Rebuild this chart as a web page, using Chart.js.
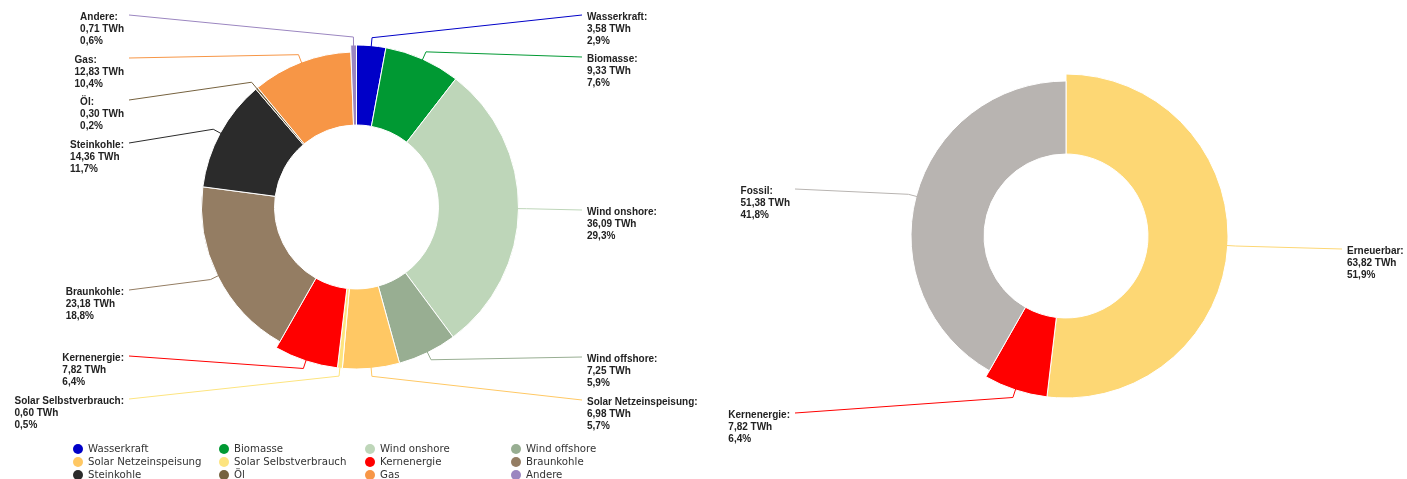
<!DOCTYPE html>
<html>
<head>
<meta charset="utf-8">
<script src="https://cdn.jsdelivr.net/npm/chart.js@4.4.1/dist/chart.umd.min.js"></script>
<style>
html, body { margin: 0; padding: 0; background: #fff; }
#wrap { position: relative; width: 1407px; height: 479px; overflow: hidden; }
#left { position: absolute; left: 0; top: 0; }
#right { position: absolute; left: 704px; top: 0; }
#legend {
    position: absolute; left: 73px; top: 442px;
    display: grid; grid-template-columns: repeat(4, 146px);
    font: 10.2px "DejaVu Sans", sans-serif; color: #333;
}
.item { height: 13px; line-height: 13px; white-space: nowrap; display: flex; align-items: center; }
.dot { width: 10px; height: 10px; border-radius: 50%; margin-right: 5px; flex: none; }
</style>
</head>
<body>
<div id="wrap">
    <canvas id="left" width="704" height="479"></canvas>
    <canvas id="right" width="703" height="479"></canvas>
    <div id="legend"></div>
</div>
<script>
// Stromerzeugung nach Quelle (TWh)
const quellen = ['Wasserkraft', 'Biomasse', 'Wind onshore', 'Wind offshore', 'Solar Netzeinspeisung',
    'Solar Selbstverbrauch', 'Kernenergie', 'Braunkohle', 'Steinkohle', 'Öl', 'Gas', 'Andere'];
const quellenTWh = [3.58, 9.33, 36.09, 7.25, 6.98, 0.60, 7.82, 23.18, 14.36, 0.30, 12.83, 0.71];
const quellenGruppe = ['erneuerbar', 'erneuerbar', 'erneuerbar', 'erneuerbar', 'erneuerbar',
    'erneuerbar', 'kern', 'fossil', 'fossil', 'fossil', 'fossil', 'andere'];

// Zusammenfassung nach Gruppe (TWh)
const gruppen = ['Erneuerbar', 'Kernenergie', 'Fossil'];
const gruppenTWh = [63.82, 7.82, 51.38];
const gruppenTyp = ['erneuerbar', 'kern', 'fossil'];

// colours
const quellenFarben = ['#0000c8', '#009933', '#bed6b9', '#98ae92', '#ffc864', '#fde47f',
    '#ff0000', '#947d63', '#2b2b2b', '#76623f', '#f79646', '#9b86c0'];
const gruppenFarben = ['#fdd774', '#ff0000', '#b8b4b1'];

// label anchor heights (layout only)
const quellenLabelY = [15, 57, 210, 357, 400, 399, 356, 290, 143, 100, 58, 15];
const gruppenLabelY = [249, 413, 189];

function fmt(v, digits) {
    return v.toFixed(digits).replace('.', ',');
}

const outsideLabels = {
    id: 'outsideLabels',
    beforeDatasetsDraw(chart, args, opts) {
        const meta = chart.getDatasetMeta(0);
        const ctrl = meta.controller;
        meta.data.forEach((arc, i) => {
            arc.outerRadius = opts.typ[i] === 'fossil' ? ctrl.outerRadius - opts.shrinkBy : ctrl.outerRadius;
        });
    },
    afterDraw(chart, args, opts) {
        const ctx = chart.ctx;
        const meta = chart.getDatasetMeta(0);
        const ds = chart.data.datasets[0];
        const total = ds.data.reduce((a, b) => a + b, 0);
        ctx.save();
        ctx.font = 'bold 10px "Liberation Sans", Arial, sans-serif';
        ctx.textBaseline = 'middle';
        meta.data.forEach((arc, i) => {
            const mid = (arc.startAngle + arc.endAngle) / 2;
            const cos = Math.cos(mid), sin = Math.sin(mid);
            const bx = arc.x + cos * (arc.outerRadius - 1), by = arc.y + sin * (arc.outerRadius - 1);
            const kx = arc.x + cos * (arc.outerRadius + 8), ky = arc.y + sin * (arc.outerRadius + 8);
            const right = cos >= 0;
            const ly = opts.labelY[i];
            const lineX = right ? opts.rightLineX : opts.leftLineX;

            ctx.strokeStyle = ds.backgroundColor[i];
            ctx.lineWidth = 1;
            ctx.beginPath();
            ctx.moveTo(lineX, ly);
            ctx.lineTo(kx, ky);
            ctx.lineTo(bx, by);
            ctx.stroke();

            const lines = [chart.data.labels[i] + ':', fmt(ds.data[i], 2) + ' TWh', fmt(ds.data[i] / total * 100, 1) + '%'];
            const w = Math.max(...lines.map(t => ctx.measureText(t).width));
            const tx = right ? opts.rightTextX : opts.leftTextX - w;
            ctx.fillStyle = '#222';
            lines.forEach((t, k) => ctx.fillText(t, tx, ly + 2 + k * 12));
        });
        ctx.restore();
    }
};

function makeDonut(id, labels, values, colors, typ, labelY, pad, xs) {
    return new Chart(document.getElementById(id), {
        type: 'doughnut',
        data: {
            labels: labels,
            datasets: [{
                data: values,
                backgroundColor: colors,
                borderColor: '#ffffff',
                borderWidth: 1,
                radius: 162,
                cutout: '50.6%'
            }]
        },
        options: {
            responsive: false,
            devicePixelRatio: 1,
            animation: false,
            layout: { padding: pad },
            plugins: {
                legend: { display: false },
                tooltip: { enabled: false },
                outsideLabels: Object.assign({ typ: typ, labelY: labelY, shrinkBy: 7 }, xs)
            }
        },
        plugins: [outsideLabels]
    });
}

makeDonut('left', quellen, quellenTWh, quellenFarben, quellenGruppe, quellenLabelY,
    { left: 9, right: 0, top: 0, bottom: 65 },
    { leftLineX: 129, leftTextX: 124, rightLineX: 582, rightTextX: 587 });

makeDonut('right', gruppen, gruppenTWh, gruppenFarben, gruppenTyp, gruppenLabelY,
    { left: 21, right: 0, top: 0, bottom: 7 },
    { leftLineX: 91, leftTextX: 86, rightLineX: 638, rightTextX: 643 });

// legend for the left chart
const legend = document.getElementById('legend');
quellen.forEach((name, i) => {
    const item = document.createElement('div');
    item.className = 'item';
    item.innerHTML = `<span class="dot" style="background:${quellenFarben[i]}"></span>${name}`;
    legend.appendChild(item);
});
</script>
</body>
</html>
